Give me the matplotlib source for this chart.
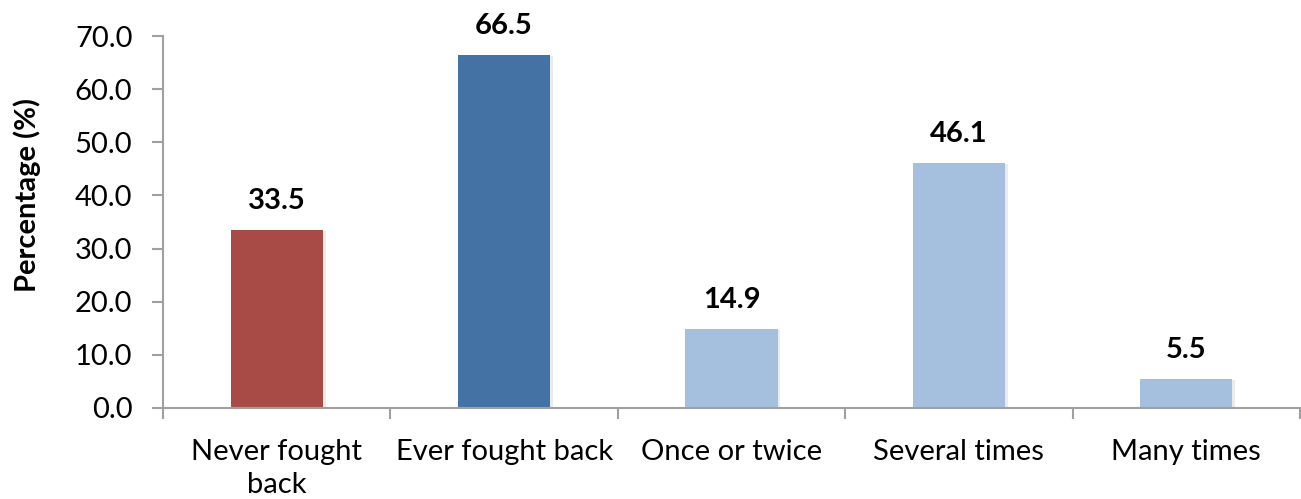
import matplotlib.pyplot as plt
import matplotlib.patheffects as pe
import numpy as np

categories = ['Never fought\nback', 'Ever fought back', 'Once or twice', 'Several times', 'Many times']
values = [33.5, 66.5, 14.9, 46.1, 5.5]
colors = ['#A84B46', '#4572A4', '#A5C0DF', '#A5C0DF', '#A5C0DF']

plt.rcParams['font.family'] = ['Lato', 'DejaVu Sans']

fig = plt.figure(figsize=(13.01, 4.99), dpi=100)
ax = fig.add_axes([163 / 1301, 1 - 408 / 499, 1 - 163 / 1301 - 1 / 1301, (408 - 36) / 499])

x = np.arange(len(categories))
bars = ax.bar(x, values, width=0.405, color=colors, zorder=2)
# faint drop shadow on the bars
for b in bars:
    b.set_path_effects([pe.SimplePatchShadow(offset=(2, -1), shadow_rgbFace='#000000', alpha=0.08), pe.Normal()])

for xi, v in zip(x, values):
    ax.text(xi, v + 3.0, f'{v:.1f}', ha='center', va='bottom', fontsize=21, fontweight='bold')

ax.set_ylim(0, 70)
ax.set_xlim(-0.5, len(categories) - 0.5)
ax.set_yticks(np.arange(0, 71, 10))
ax.set_yticklabels([f'{t:.1f}' for t in np.arange(0, 71, 10)], fontsize=21)
ax.set_xticks(x)
ax.set_xticklabels(categories, fontsize=21, linespacing=1.35)
ax.set_xticks(np.arange(-0.5, len(categories)), minor=True)
ax.tick_params(axis='x', which='major', length=0, pad=22)
ax.tick_params(axis='x', which='minor', length=8, color='#A0A0A0', width=1.5)
ax.tick_params(axis='y', length=8, color='#A0A0A0', width=1.5, pad=14)
ax.set_ylabel('Percentage (%)', fontsize=21, fontweight='bold')
ax.yaxis.set_label_coords(-0.107, 0.573)

for side in ['top', 'right']:
    ax.spines[side].set_visible(False)
for side in ['left', 'bottom']:
    ax.spines[side].set_color('#A0A0A0')
    ax.spines[side].set_linewidth(1.5)

fig.savefig('out.png', dpi=100)
